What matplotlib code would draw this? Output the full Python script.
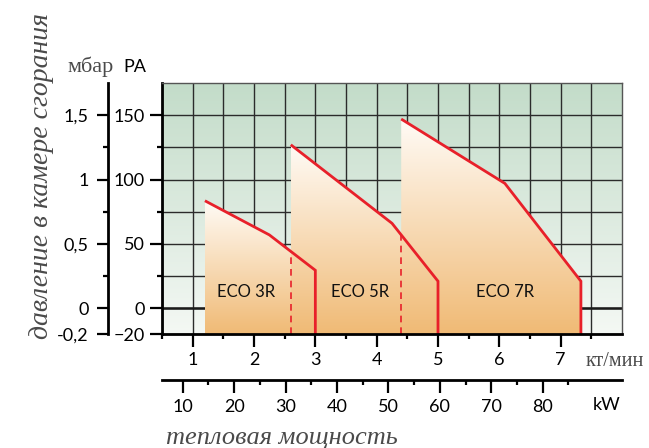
import numpy as np
import matplotlib
matplotlib.use('Agg')
import matplotlib.pyplot as plt
from matplotlib.patches import Polygon
from matplotlib.colors import LinearSegmentedColormap

# data: burner working fields (kg/min vs. chamber pressure, Pa)
models = ['ECO 3R', 'ECO 5R', 'ECO 7R']
curve_x = [[1.20, 2.25, 3.00],
           [2.60, 4.25, 5.00],
           [4.40, 6.09, 7.33]]
curve_y = [[83.5, 57, 29.5],
           [127, 66, 21],
           [147, 97, 21]]
label_x = [1.87, 3.73, 6.09]
label_y = 13

pa_ticks = [-20, 0, 50, 100, 150]
pa_minor = [25, 75, 125]
mbar_ticks = [-0.2, 0, 0.5, 1, 1.5]
mbar_labels = ['-0,2', '0', '0,5', '1', '1,5']
mbar_minor = [0.25, 0.75, 1.25]
kgmin_ticks = [1, 2, 3, 4, 5, 6, 7]
kgmin_minor = [0.5, 1.5, 2.5, 3.5, 4.5, 5.5, 6.5, 7.5]
kw_ticks = [10, 20, 30, 40, 50, 60, 70, 80]
kw_minor = [15, 25, 35, 45, 55, 65, 75, 85]
kw_per_kgmin = 11.93

y_min, y_max = -20, 175
x_min, x_max = 0.5, 8.0

SANS = 'Lato'
SERIF = 'Liberation Serif'
RED = '#E8202A'
GRAY = '#4a4a4a'
TICK_FS = 13


def gradient_fill(ax, xs, ys, c_top, c_bot, z):
    verts = [(xs[0], y_min)] + list(zip(xs, ys)) + [(xs[-1], y_min)]
    patch = Polygon(verts, closed=True, facecolor='none', edgecolor='none')
    ax.add_patch(patch)
    cmap = LinearSegmentedColormap.from_list('g', [c_top, c_bot])
    grad = np.linspace(0, 1, 256).reshape(-1, 1)
    im = ax.imshow(grad, extent=(xs[0], xs[-1], y_min, max(ys)), origin='upper',
                   cmap=cmap, aspect='auto', zorder=z, interpolation='bilinear')
    im.set_clip_path(patch)


fig = plt.figure(figsize=(6.49, 4.48), dpi=100)
ax = fig.add_axes([162 / 649, 1 - 334 / 448, 460 / 649, 251 / 448])
ax.set_xlim(x_min, x_max)
ax.set_ylim(y_min, y_max)

# green background
bg = LinearSegmentedColormap.from_list('bg', ['#C3DCC9', '#F4F8F4'])
ax.imshow(np.linspace(0, 1, 256).reshape(-1, 1), extent=(x_min, x_max, y_min, y_max),
          origin='upper', cmap=bg, aspect='auto', zorder=0, interpolation='bilinear')

# grid
ax.set_xticks(kgmin_ticks)
ax.set_xticks(kgmin_minor, minor=True)
ax.set_yticks(pa_ticks)
ax.set_yticks(pa_minor, minor=True)
ax.grid(which='both', color='#2b2b2b', lw=1.0, zorder=1)
ax.set_axisbelow(True)
ax.axhline(0, color='#1a1a1a', lw=1.8, zorder=1)

# fields
for i in range(len(models)):
    gradient_fill(ax, curve_x[i], curve_y[i], '#FFFBF6', '#F0BA75', 2 + i)

for i in range(len(models)):
    xs, ys = curve_x[i], curve_y[i]
    ax.plot(xs + [xs[-1]], ys + [y_min], color=RED, lw=2.0, zorder=6,
            solid_capstyle='butt', solid_joinstyle='miter', clip_on=False)
    ax.text(label_x[i], label_y, models[i], ha='center', va='center',
            fontsize=12, family=SANS, color='#111111', zorder=7)

# dashed left edges of the bigger models where they sit under the previous curve
for i in range(1, len(models)):
    x0 = curve_x[i][0]
    y_top = np.interp(x0, curve_x[i - 1], curve_y[i - 1])
    ax.plot([x0, x0], [y_min, y_top], color=RED, lw=1.2, ls=(0, (4, 3)), zorder=6)

for side in ['top', 'right']:
    ax.spines[side].set_color('#555555')
    ax.spines[side].set_linewidth(1.0)
for side in ['left', 'bottom']:
    ax.spines[side].set_color('black')
    ax.spines[side].set_linewidth(2.0)
ax.spines['bottom'].set_zorder(8)

ax.tick_params(axis='both', which='major', length=9, width=1.6, color='black',
               labelsize=TICK_FS)
ax.tick_params(axis='both', which='minor', length=3.6, width=1.6, color='black')
ax.tick_params(axis='x', which='major', pad=4.0)
ax.tick_params(axis='y', which='major', pad=3.4)
for lab in ax.get_xticklabels() + ax.get_yticklabels():
    lab.set_fontfamily(SANS)

# mbar axis
sy = ax.secondary_yaxis(-0.117, functions=(lambda p: p / 100, lambda m: m * 100))
sy.set_yticks(mbar_ticks)
sy.set_yticklabels(mbar_labels)
sy.set_yticks(mbar_minor, minor=True)
sy.spines['left'].set_linewidth(2.0)
sy.tick_params(which='major', length=8, width=1.6, pad=6.0, labelsize=TICK_FS)
sy.tick_params(which='minor', length=3.6, width=1.6)
for lab in sy.get_yticklabels():
    lab.set_fontfamily(SANS)

# kW axis
sx = ax.secondary_xaxis(-0.183, functions=(lambda x: x * kw_per_kgmin,
                                          lambda k: k / kw_per_kgmin))
sx.set_xticks(kw_ticks)
sx.set_xticks(kw_minor, minor=True)
sx.spines['bottom'].set_linewidth(2.0)
sx.tick_params(which='major', length=9, width=1.6, pad=5.0, labelsize=TICK_FS)
sx.tick_params(which='minor', length=3.6, width=1.6)
for lab in sx.get_xticklabels():
    lab.set_fontfamily(SANS)

# titles and units
fig.text(68 / 649, 1 - 72 / 448, 'мбар', family=SERIF, fontsize=16, color=GRAY,
         ha='left', va='baseline')
fig.text(123 / 649, 1 - 72 / 448, 'PA', family=SANS, fontsize=13, color='black',
         ha='left', va='baseline')
fig.text(586 / 649, 1 - 361 / 448, 'кт/мин', family=SERIF, fontsize=14.5, color=GRAY,
         ha='left', va='center')
fig.text(607 / 649, 1 - 405 / 448, 'kW', family=SANS, fontsize=13, color='black',
         ha='center', va='center')
fig.text(42 / 649, 1 - 176 / 448, 'давление в камере сгорания', family=SERIF,
         style='italic', fontsize=20, color=GRAY, rotation=90, ha='center', va='center')
fig.text(282 / 649, 1 - 438 / 448, 'тепловая мощность', family=SERIF,
         style='italic', fontsize=19, color=GRAY, ha='center', va='center')

fig.savefig('out.png', dpi=100)
